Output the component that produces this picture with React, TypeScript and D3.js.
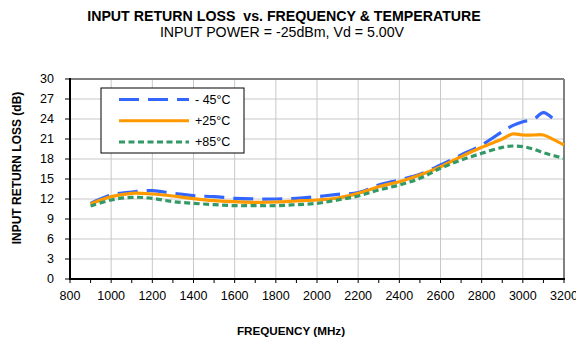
import React from "react";
import * as d3 from "d3";

const freq = [900, 1000, 1100, 1200, 1300, 1400, 1500, 1600, 1700, 1800, 1900, 2000, 2100, 2200, 2300, 2400, 2500, 2600, 2700, 2800, 2900, 2950, 3000, 3050, 3100, 3150, 3200];
const cold = [11.35, 12.6, 13.05, 13.25, 12.85, 12.5, 12.35, 12.1, 12.0, 12.0, 12.1, 12.35, 12.7, 12.95, 14.1, 14.85, 15.7, 17.1, 18.6, 20.1, 22.1, 23.0, 23.6, 23.9, 24.95, 23.95, null];
const room = [11.25, 12.35, 12.85, 12.75, 12.45, 12.05, 11.75, 11.6, 11.5, 11.55, 11.7, 11.85, 12.15, 12.85, 13.85, 14.6, 15.6, 16.85, 18.35, 19.75, 21.0, 21.75, 21.6, 21.6, 21.6, 20.9, 20.1];
const hot = [10.95, 11.85, 12.25, 12.1, 11.6, 11.35, 11.15, 11.0, 11.0, 11.0, 11.15, 11.35, 11.85, 12.45, 13.35, 14.1, 15.1, 16.6, 17.85, 18.85, 19.75, 19.95, 19.85, 19.5, 18.95, 18.5, 18.1];

const seriesNames = ["- 45°C", "+25°C", "+85°C"];
const seriesColors = ["#3366FF", "#FF9900", "#339966"];
const seriesDash = ["20,9", "", "6,3.5"];
const xTicks = [800, 1000, 1200, 1400, 1600, 1800, 2000, 2200, 2400, 2600, 2800, 3000, 3200];
const yTicks = [0, 3, 6, 9, 12, 15, 18, 21, 24, 27, 30];

const FONT = "'Liberation Sans', Arial, sans-serif";

export default function App() {
  const W = 576, H = 343;
  const x = d3.scaleLinear().domain([800, 3200]).range([70, 564]);
  const y = d3.scaleLinear().domain([0, 30]).range([279, 79]);
  const minor = d3.range(800, 3201, 100);
  const allSeries = [cold, room, hot];

  const line = d3
    .line<[number, number | null]>()
    .defined((d) => d[1] != null)
    .x((d) => x(d[0]))
    .y((d) => y(d[1] as number))
    .curve(d3.curveCatmullRom.alpha(0.5));

  return (
    <svg width={W} height={H} style={{ position: "absolute", left: 0, top: 0 }} fontFamily={FONT}>
      <rect x={0} y={0} width={W} height={H} fill="#fff" />
      <text x={284} y={21} textAnchor="middle" fontSize={14.2} fontWeight="bold">{"INPUT RETURN LOSS\u00A0 vs. FREQUENCY & TEMPERATURE"}</text>
      <text x={282} y={37} textAnchor="middle" fontSize={14.2}>INPUT POWER = -25dBm, Vd = 5.00V</text>

      {/* gridlines */}
      {xTicks.slice(1, -1).map((t) => (
        <line key={"gx" + t} x1={x(t)} x2={x(t)} y1={y(0)} y2={y(30)} stroke="#c8c8c8" strokeWidth={1} />
      ))}
      {yTicks.slice(1, -1).map((t) => (
        <line key={"gy" + t} x1={x(800)} x2={x(3200)} y1={y(t)} y2={y(t)} stroke="#c8c8c8" strokeWidth={1} />
      ))}

      {/* frame */}
      <line x1={x(800)} x2={x(3200)} y1={y(30)} y2={y(30)} stroke="#808080" strokeWidth={2} />
      <line x1={x(3200)} x2={x(3200)} y1={y(30)} y2={y(0)} stroke="#808080" strokeWidth={2} />

      {/* series */}
      {allSeries.map((s, i) => (
        <path
          key={"s" + i}
          d={line(freq.map((f, j) => [f, s[j]]) as any) || ""}
          fill="none"
          stroke={seriesColors[i]}
          strokeWidth={3.2}
          strokeDasharray={seriesDash[i] || undefined}
        />
      ))}

      {/* axes */}
      <line x1={x(800)} x2={x(800)} y1={y(30) - 1} y2={y(0)} stroke="#000" strokeWidth={2} />
      <line x1={x(800) - 1} x2={x(3200) + 1} y1={y(0)} y2={y(0)} stroke="#000" strokeWidth={2} />
      {yTicks.map((t) => (
        <g key={"yt" + t}>
          <line x1={x(800) - 5} x2={x(800)} y1={y(t)} y2={y(t)} stroke="#000" strokeWidth={1} />
          <text x={54} y={y(t)} dy="0.35em" textAnchor="end" fontSize={12.5}>{t}</text>
        </g>
      ))}
      {minor.map((t) => (
        <line key={"xm" + t} x1={x(t)} x2={x(t)} y1={y(0)} y2={y(0) + 4} stroke="#000" strokeWidth={1} />
      ))}
      {xTicks.map((t) => (
        <text key={"xt" + t} x={x(t)} y={y(0) + 20.5} textAnchor="middle" fontSize={12.5}>{t}</text>
      ))}

      <text x={291} y={335} textAnchor="middle" fontSize={11.7} fontWeight="bold">FREQUENCY (MHz)</text>
      <text transform={`translate(21,168) rotate(-90)`} textAnchor="middle" fontSize={12} fontWeight="bold">INPUT RETURN LOSS (dB)</text>

      {/* legend */}
      <rect x={101} y={88} width={143} height={65} fill="#fff" stroke="#000" strokeWidth={1} />
      {seriesNames.map((n, i) => {
        const ly = 99.5 + i * 21.3;
        return (
          <g key={"lg" + i}>
            <line x1={119} x2={189} y1={ly} y2={ly} stroke={seriesColors[i]} strokeWidth={3} strokeDasharray={seriesDash[i] || undefined} />
            <text x={195} y={ly} dy="0.35em" fontSize={12.5}>{n}</text>
          </g>
        );
      })}
    </svg>
  );
}
